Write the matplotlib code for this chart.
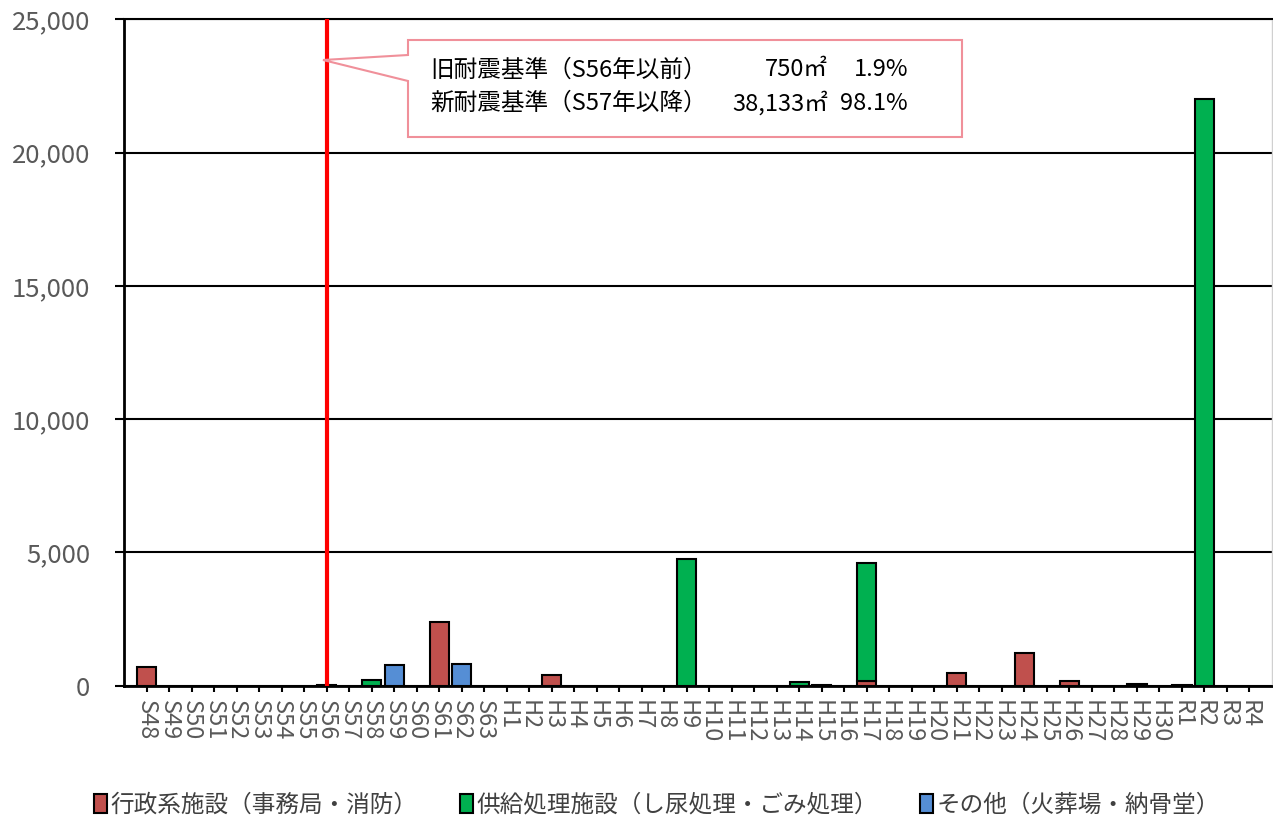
import matplotlib
matplotlib.use("Agg")
import matplotlib.pyplot as plt
from matplotlib.patches import Polygon, Patch
import numpy as np

plt.rcParams['font.family'] = ['Noto Sans CJK JP', 'DejaVu Sans']

# 建築年度（昭和・平成・令和）
years = ([f"S{n}" for n in range(48, 64)] +
         [f"H{n}" for n in range(1, 31)] +
         [f"R{n}" for n in range(1, 5)])

series_names = ["行政系施設（事務局・消防）",
                "供給処理施設（し尿処理・ごみ処理）",
                "その他（火葬場・納骨堂）"]

# 年度別延床面積（㎡）
admin = {"S48": 720, "S56": 30, "S61": 2380, "H3": 400, "H17": 170,
         "H21": 485, "H24": 1220, "H26": 190, "H29": 60, "R1": 20}
supply = {"S58": 210, "H9": 4770, "H14": 150, "H15": 20, "H17": 4430,
          "R2": 22008}
other = {"S59": 790, "S62": 830}

colors = ["#C0504D", "#00B050", "#558ED5"]
boundary_year = "S56"

n = len(years)
x = np.arange(n)
vals = [np.array([d.get(y, 0) for y in years], dtype=float)
        for d in (admin, supply, other)]

fig = plt.figure(figsize=(12.73, 8.25), dpi=100)
ax = fig.add_axes([124 / 1273, 1 - 685.7 / 825, 1148 / 1273, 666.5 / 825])

bottom = np.zeros(n)
for v, c in zip(vals, colors):
    m = v > 0
    ax.bar(x[m], v[m], bottom=bottom[m], width=0.85, color=c,
           edgecolor="black", linewidth=1.5, zorder=3)
    bottom += v

ax.set_xlim(-1, n)
ax.set_ylim(0, 25000)
ax.set_yticks(np.arange(0, 25001, 5000))
ax.set_yticklabels([f"{t:,}" for t in range(0, 25001, 5000)])
ax.set_xticks(x)
ax.set_xticklabels(years, rotation=-90)
ax.tick_params(axis="y", labelsize=18.5, labelcolor="#595959", length=6.5,
               width=1.5, pad=18)
ax.tick_params(axis="x", labelsize=17, labelcolor="#595959", length=4.5,
               width=1.5, pad=6)
for lab in ax.get_xticklabels():
    lab.set_verticalalignment("top")

ax.yaxis.grid(True, color="black", linewidth=1.5, zorder=1)
ax.set_axisbelow(True)
ax.spines["left"].set_linewidth(2)
ax.spines["bottom"].set_linewidth(2)
ax.spines["top"].set_linewidth(1.5)
ax.spines["right"].set_color("#D0D0D0")
ax.spines["right"].set_linewidth(1)

# 旧耐震／新耐震の境界線
bi = years.index(boundary_year)
ax.axvline(bi, color="#FF0000", linewidth=3, zorder=4)

# 吹き出し
old_total = sum(v[:bi + 1].sum() for v in vals)
new_total = sum(v[bi + 1:].sum() for v in vals)
grand = old_total + new_total

W, H = 1273, 825
def fp(px, py):
    return (px / W, 1 - py / H)

pts = [fp(408, 40), fp(962, 40), fp(962, 137), fp(408, 137), fp(408, 81),
       fp(323, 60), fp(408, 55)]
fig.patches.append(Polygon(pts, closed=True, transform=fig.transFigure,
                           facecolor="white", edgecolor="#F0909A",
                           linewidth=1.5, zorder=5))

lines = [("旧耐震基準（S56年以前）", old_total, 70),
         ("新耐震基準（S57年以降）", new_total, 103)]
for label, total, py in lines:
    fig.text(*fp(430, py), label, fontsize=17, va="center", ha="left",
             color="black", zorder=6)
    fig.text(*fp(828, py), f"{int(total):,}㎡", fontsize=17, va="center",
             ha="right", color="black", zorder=6)
    fig.text(*fp(908, py), f"{total / grand * 100:.1f}%", fontsize=17,
             va="center", ha="right", color="black", zorder=6)

handles = [Patch(facecolor=c, edgecolor="black", linewidth=1.5) for c in colors]
fig.legend(handles, series_names, loc="center",
           bbox_to_anchor=((657) / W, 1 - 805 / H),
           ncol=3, frameon=False, fontsize=17, handlelength=0.55,
           handleheight=0.9, handletextpad=0.15, columnspacing=1.8,
           labelcolor="#404040")

fig.savefig("out.png", dpi=100)
